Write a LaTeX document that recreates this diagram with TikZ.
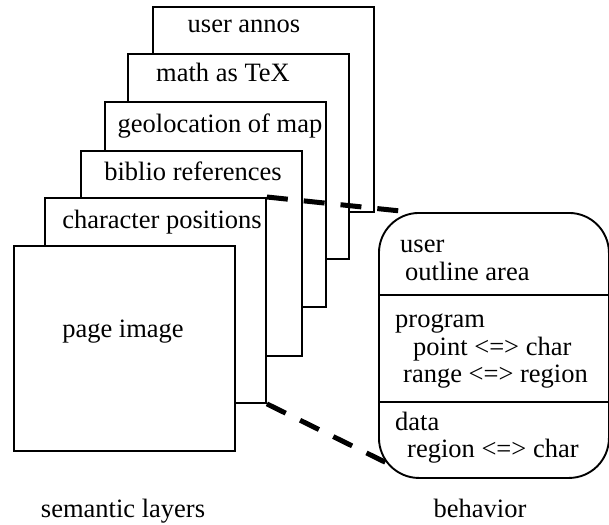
\documentclass[tikz,border=0pt]{standalone}
\usepackage{fontspec}
\setmainfont{Liberation Serif}

\begin{document}
\begin{tikzpicture}[x=1pt, y=-1pt,
    layer/.style={draw, fill=white, line width=1.9pt, minimum width=221pt,
                  minimum height=205pt, anchor=north west, inner sep=0pt},
    lbl/.style={font=\fontsize{26.5}{30}\selectfont, anchor=base, inner sep=0pt},
    txt/.style={font=\fontsize{26.5}{30}\selectfont, anchor=base west, inner sep=0pt},
    link/.style={line width=5pt, dash pattern=on 21pt off 16pt}
  ]
    \useasboundingbox (0,0) rectangle (609,524);

    %% Semantic layers, back to front
    \node[layer] (annos) at (152,6) {};
    \node[lbl] (annoslbl) at (244,33) {user annos};
    \node[layer] (tex) at (127,53) {};
    \node[lbl] (texlbl) at (223,82) {math as TeX};
    \node[layer] (geo) at (104,101) {};
    \node[lbl] (geolbl) at (220,132) {geolocation of map};
    \node[layer] (biblio) at (80,150) {};
    \node[lbl] (bibliolbl) at (193,180) {biblio references};
    \node[layer] (chars) at (44,197) {};
    \node[lbl] (charslbl) at (162,228) {character positions};
    \node[layer] (page) at (13,245) {};
    \node[lbl] (pagelbl) at (123,337) {page image};

    %% Behavior box
    \node[draw, line width=1.9pt, rounded corners=40pt, minimum width=230pt,
          minimum height=265pt, anchor=north west, inner sep=0pt] (beh) at (378,212) {};
    \draw[line width=1.9pt] (beh.west |- 0,295) -- (beh.east |- 0,295);
    \draw[line width=1.9pt] (beh.west |- 0,402) -- (beh.east |- 0,402);
    \node[txt] (user) at (400,252) {user};
    \node[txt] (outline) at (405,280) {outline area};
    \node[txt] (prog) at (395,327) {program};
    \node[txt] (point) at (413,355) {point <=> char};
    \node[txt] (range) at (403,382) {range <=> region};
    \node[txt] (data) at (395,430) {data};
    \node[txt] (region) at (407,457) {region <=> char};

    %% Links from the layers to the behavior
    \coordinate (behtop) at (410,212);
    \coordinate (behbot) at (393,466);
    \draw[link] (chars.north east) -- (behtop);
    \draw[link] (chars.south east) -- (behbot);

    %% Captions
    \node[lbl] (semcap) at (123,517) {semantic layers};
    \node[lbl] (behcap) at (480,517) {behavior};
  \end{tikzpicture}
\end{document}
